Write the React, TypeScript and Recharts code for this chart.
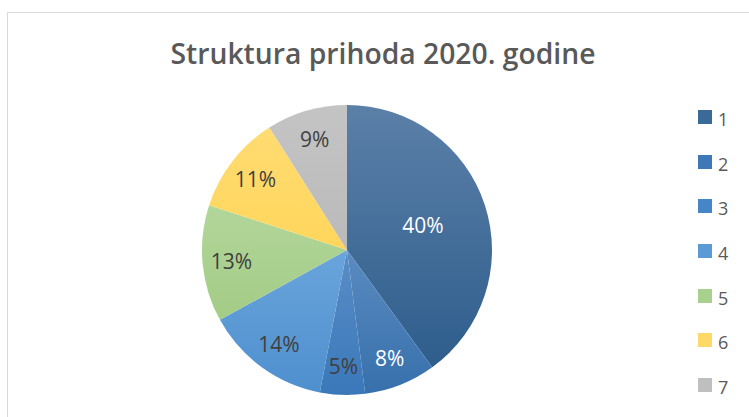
import { PieChart, Pie, Cell, Legend } from 'recharts';

const kategorije = ['1', '2', '3', '4', '5', '6', '7'];
const udjeli = [40, 8, 5, 14, 13, 11, 9];
const boje = ['#3A6A98', '#3F78B6', '#4585C8', '#5B9BD5', '#A9D18E', '#FFD966', '#BFBFBF'];
const svijetle = ['#5B80A8', '#5A8BC0', '#5A8DC6', '#6AA5DC', '#B2D69A', '#FFDC72', '#C4C4C4'];
const tamne = ['#2E5D8C', '#3770AC', '#3A78BA', '#4E8FCE', '#A3CC86', '#FFD65C', '#BABABA'];
const bijeliNatpisi = [true, true, false, false, false, false, false];

const podaci = kategorije.map((k, i) => ({ naziv: k, vrijednost: udjeli[i] }));

const RAD = Math.PI / 180;

function Natpis(props: any) {
  const { cx, cy, midAngle, outerRadius, percent, index } = props;
  const r = percent > 0.3 ? outerRadius * 0.55 : outerRadius * 0.8;
  const x = cx + r * Math.cos(-midAngle * RAD);
  const y = cy + r * Math.sin(-midAngle * RAD);
  return (
    <text
      x={x}
      y={y}
      textAnchor="middle"
      dominantBaseline="central"
      fill={bijeliNatpisi[index] ? '#FFFFFF' : '#404040'}
      fontSize={21}
      fontFamily="'Open Sans', sans-serif"
    >
      {`${Math.round(percent * 100)}%`}
    </text>
  );
}

function Legenda() {
  return (
    <div style={{ fontFamily: "'Open Sans', sans-serif", color: '#595959' }}>
      {podaci.map((d, i) => (
        <div key={d.naziv} style={{ display: 'flex', alignItems: 'center', height: 44.6 }}>
          <span style={{ width: 14, height: 14, background: boje[i], display: 'inline-block', marginRight: 6 }} />
          <span style={{ fontSize: 18, lineHeight: '18px', marginTop: 4 }}>{d.naziv}</span>
        </div>
      ))}
    </div>
  );
}

export default function App() {
  return (
    <div style={{ position: 'absolute', left: 0, top: 0, width: 749, height: 417, background: '#fff', overflow: 'hidden' }}>
      <div
        style={{
          position: 'absolute',
          left: 7,
          top: 12,
          width: 800,
          height: 500,
          borderTop: '1.5px solid #D9D9D9',
          borderLeft: '1.5px solid #D9D9D9',
        }}
      />
      <PieChart
        width={749}
        height={417}
        margin={{ top: 0, right: 0, bottom: 0, left: 0 }}
        style={{ position: 'absolute', left: 0, top: 0 }}
      >
        <defs>
          {boje.map((_, i) => (
            <linearGradient key={i} id={`grad${i}`} x1="0" y1="0" x2="0" y2="1">
              <stop offset="0%" stopColor={svijetle[i]} />
              <stop offset="100%" stopColor={tamne[i]} />
            </linearGradient>
          ))}
        </defs>
        <text
          x={383}
          y={53}
          textAnchor="middle"
          dominantBaseline="central"
          fill="#595959"
          fontSize={28}
          fontWeight={600}
          fontFamily="'Open Sans', sans-serif"
          textLength={425}
          lengthAdjust="spacingAndGlyphs"
        >
          Struktura prihoda 2020. godine
        </text>
        <Pie
          data={podaci}
          dataKey="vrijednost"
          nameKey="naziv"
          cx={347}
          cy={250}
          outerRadius={145}
          startAngle={90}
          endAngle={-270}
          stroke="none"
          label={Natpis}
          labelLine={false}
          isAnimationActive={false}
        >
          {podaci.map((d, i) => (
            <Cell key={d.naziv} fill={`url(#grad${i})`} />
          ))}
        </Pie>
        <Legend
          layout="vertical"
          verticalAlign="top"
          align="right"
          content={() => <Legenda />}
          wrapperStyle={{ position: 'absolute', left: 698, top: 95, width: 50 }}
        />
      </PieChart>
    </div>
  );
}
